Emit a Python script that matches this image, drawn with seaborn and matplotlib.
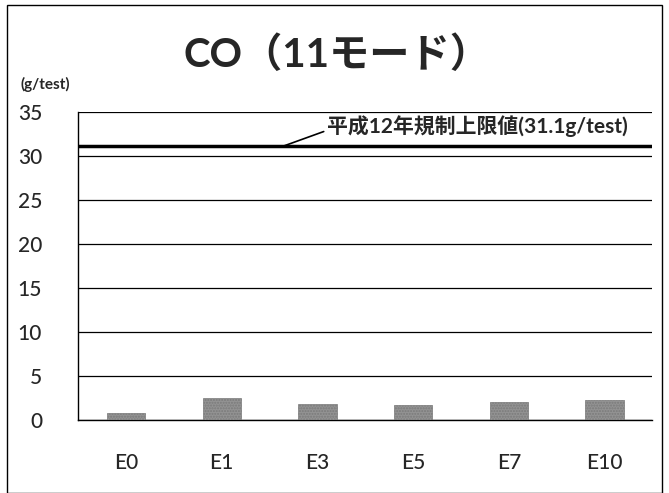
import seaborn as sb
import matplotlib.pyplot as plt
import pandas as pd
from matplotlib.patches import Rectangle

# data
engines = ['E0', 'E1', 'E3', 'E5', 'E7', 'E10']
co_values = [0.8, 2.5, 1.8, 1.7, 2.0, 2.3]
limit_value = 31.1
limit_label = '平成12年規制上限値(31.1g/test)'
title_text = 'CO（11モード）'
unit_text = '(g/test)'
y_ticks = [0, 5, 10, 15, 20, 25, 30, 35]

sb.set_style('white')
plt.rcParams['font.family'] = ['Lato', 'Noto Sans CJK JP', 'DejaVu Sans']

df = pd.DataFrame({'engine': engines, 'co': co_values})

fig = plt.figure(figsize=(6.69, 4.93), dpi=100)
ax = fig.add_axes([0.117, 0.148, 0.858, 0.625])

sb.barplot(data=df, x='engine', y='co', color='#939393', width=0.4,
           edgecolor='#7a7a7a', linewidth=0.5, ax=ax, zorder=3)
for p in ax.patches:
    p.set_hatch('......')

ax.set_ylim(0, 35)
ax.set_xlim(-0.5, len(engines) - 0.5)
ax.set_yticks(y_ticks)
ax.yaxis.grid(True, color='black', linewidth=0.9)
ax.set_axisbelow(True)
for s in ['top', 'right']:
    ax.spines[s].set_visible(False)
ax.spines['left'].set_color('black')
ax.spines['left'].set_linewidth(1.0)
ax.spines['bottom'].set_color('black')
ax.spines['bottom'].set_linewidth(1.0)

# ticks between categories
ax.set_xticks([i - 0.5 for i in range(len(engines) + 1)], minor=False)
ax.set_xticklabels([])
ax.set_xticks(range(len(engines)), minor=True)
ax.set_xticklabels(engines, minor=True, fontsize=15, fontweight='medium')
ax.tick_params(axis='x', which='major', direction='out', length=5, color='black', width=1)
ax.tick_params(axis='x', which='minor', length=0, pad=24)
ax.tick_params(axis='y', labelsize=15, length=0, pad=26)
for t in ax.get_yticklabels():
    t.set_fontweight('medium')
ax.set_xlabel('')
ax.set_ylabel('')

# regulation limit
ax.axhline(limit_value, color='black', linewidth=2.5, zorder=4)
ax.annotate(limit_label, xy=(1.64, limit_value), xytext=(2.1, 33.4),
            fontsize=15, fontweight='bold', va='center', ha='left',
            arrowprops=dict(arrowstyle='-', color='black', lw=1.2,
                            shrinkA=0, shrinkB=0, relpos=(0, 0.3)))

fig.text(0.503, 0.89, title_text, fontsize=29, fontweight='bold',
         ha='center', va='center')
fig.text(0.03, 0.828, unit_text, fontsize=11, fontweight='bold',
         ha='left', va='center')

fig.patches.append(Rectangle((0.011, 0.0), 0.978, 0.99, transform=fig.transFigure,
                             fill=False, edgecolor='black', linewidth=1.0))

plt.savefig('out.png', dpi=100)
